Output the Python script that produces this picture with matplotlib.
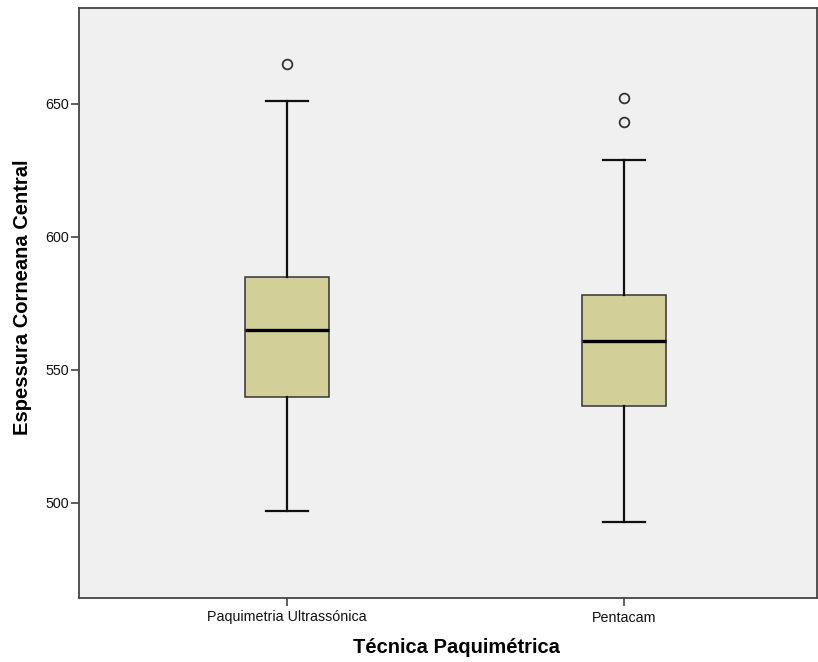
import matplotlib
matplotlib.use("Agg")
import matplotlib.pyplot as plt

plt.rcParams['font.family'] = ['Liberation Sans', 'DejaVu Sans']

# Summary statistics for each technique
techniques = ["Paquimetria Ultrassónica", "Pentacam"]
whisker_low = [497, 493]
q1 = [540, 536.5]
median = [565, 561]
q3 = [585, 578]
whisker_high = [651, 629]
outliers = [[665], [652, 643]]

yticks = [500, 550, 600, 650]

fig = plt.figure(figsize=(8.18, 6.62), dpi=100)
ax = fig.add_axes([79 / 818, 64 / 662, 738 / 818, 590 / 662])
ax.set_facecolor("#F0F0F0")

stats = []
for i, name in enumerate(techniques):
    stats.append(dict(label=name, whislo=whisker_low[i], q1=q1[i], med=median[i],
                      q3=q3[i], whishi=whisker_high[i], fliers=outliers[i]))

positions = [1, 2]
ax.bxp(stats, positions=positions, widths=0.25, patch_artist=True,
       showfliers=True,
       boxprops=dict(facecolor="#D3CF98", edgecolor="#333333", linewidth=1.1),
       medianprops=dict(color="#000000", linewidth=2.4),
       whiskerprops=dict(color="#111111", linewidth=1.6),
       capprops=dict(color="#111111", linewidth=1.6),
       capwidths=0.125,
       flierprops=dict(marker="o", markersize=7, markerfacecolor="none",
                       markeredgecolor="#333333", markeredgewidth=1.3))

ax.set_xlim(0.383, 2.573)
ax.set_ylim(464.3, 686)
ax.set_yticks(yticks)
ax.set_xticks(positions)
ax.set_xticklabels(techniques)

for side in ["left", "bottom", "top", "right"]:
    ax.spines[side].set_color("#444444")
    ax.spines[side].set_linewidth(1.3)

ax.tick_params(axis="both", direction="out", length=6, width=1.2, color="#444444",
               labelsize=10.3, pad=1.5, labelcolor="#111111")
ax.tick_params(axis="x", pad=3)

ax.set_ylabel("Espessura Corneana Central", fontsize=14.5, fontweight="bold")
ax.set_xlabel("Técnica Paquimétrica", fontsize=14.5, fontweight="bold")
ax.yaxis.set_label_coords(-0.0635, 0.51)
ax.xaxis.set_label_coords(0.511, -0.068)

fig.savefig("out.png", dpi=100)
